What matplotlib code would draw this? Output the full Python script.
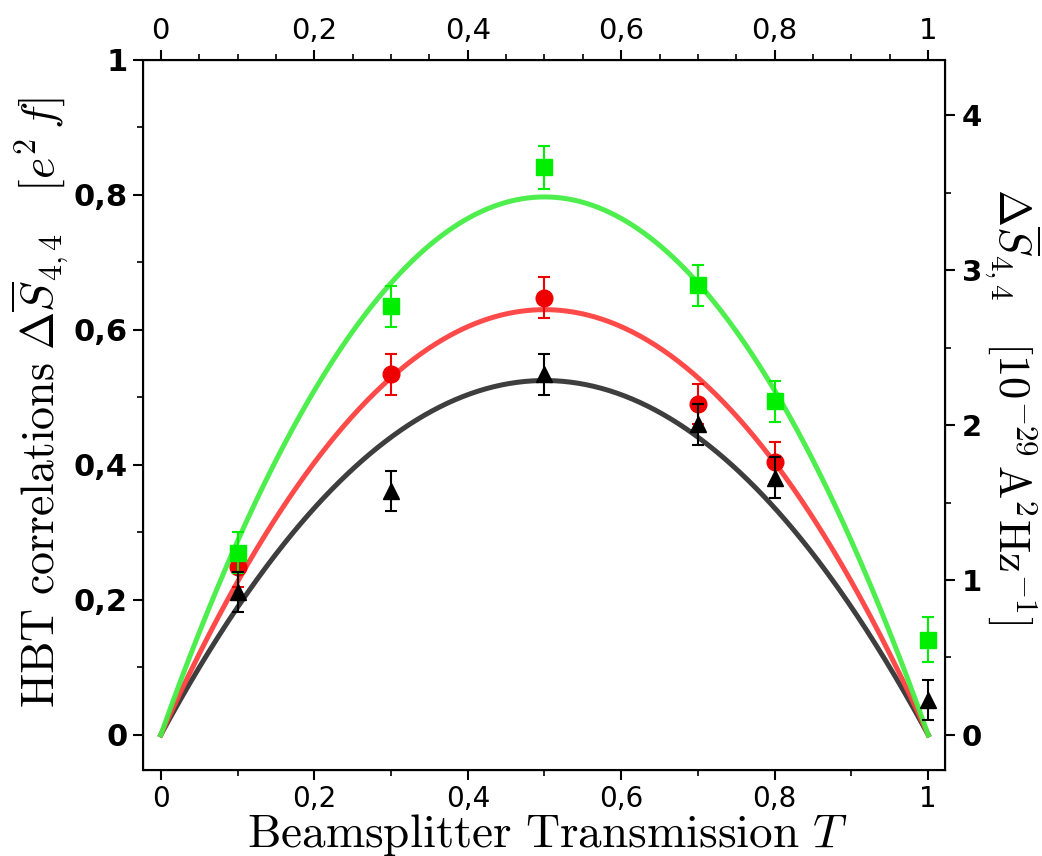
import numpy as np
import matplotlib
matplotlib.use("Agg")
import matplotlib.pyplot as plt
from matplotlib.ticker import MultipleLocator

plt.rcParams['mathtext.fontset'] = 'cm'

# ---- data ----
T_meas = [0.1, 0.3, 0.5, 0.7, 0.8, 1.0]
green_y = [0.270, 0.635, 0.841, 0.666, 0.494, 0.141]
green_err = [0.030, 0.030, 0.032, 0.030, 0.030, 0.033]
T_red = [0.1, 0.3, 0.5, 0.7, 0.8]
red_y = [0.249, 0.534, 0.648, 0.490, 0.404]
red_err = [0.030, 0.030, 0.030, 0.030, 0.030]
black_y = [0.212, 0.361, 0.534, 0.460, 0.381, 0.052]
black_err = [0.030, 0.030, 0.030, 0.030, 0.030, 0.030]

# fitted curve amplitudes (value at T = 0.5) for the model 4*A*T*(1-T)
fit_peak_green = 0.797
fit_peak_red = 0.630
fit_peak_black = 0.525

xticks = [0, 0.2, 0.4, 0.6, 0.8, 1.0]
xticklabels = ['0', '0,2', '0,4', '0,6', '0,8', '1']
yticks = [0, 0.2, 0.4, 0.6, 0.8, 1.0]
yticklabels = ['0', '0,2', '0,4', '0,6', '0,8', '1']
rticks = [0, 1, 2, 3, 4]
rticklabels = ['0', '1', '2', '3', '4']
right_scale = 4.357  # right-axis units per left-axis unit

# ---- figure ----
fig = plt.figure(figsize=(10.42, 8.56), dpi=100)
ax = fig.add_axes([0.137, 0.1005, 0.770, 0.8295])

Tc = np.linspace(0, 1, 400)
ax.plot(Tc, 4 * fit_peak_black * Tc * (1 - Tc), color='#333333', lw=3.6, alpha=0.95, zorder=2)
ax.plot(Tc, 4 * fit_peak_red * Tc * (1 - Tc), color='#ff4040', lw=3.6, alpha=0.95, zorder=3)
ax.plot(Tc, 4 * fit_peak_green * Tc * (1 - Tc), color='#44ee44', lw=3.6, alpha=0.95, zorder=4)

ekw = dict(elinewidth=1.5, capsize=4, capthick=1.5, linestyle='none')
ax.errorbar(T_meas, green_y, yerr=green_err, fmt='s', color='#00ee00', ms=11, zorder=6, **ekw)
ax.errorbar(T_red, red_y, yerr=red_err, fmt='o', color='#ee0000', ms=12, zorder=5, **ekw)
ax.errorbar(T_meas, black_y, yerr=black_err, fmt='^', color='black', ms=12, zorder=7, **ekw)

ax.set_xlim(-0.0235, 1.022)
ax.set_ylim(-0.052, 1.0)

ax.set_xticks(xticks)
ax.set_xticklabels(xticklabels, family='DejaVu Sans', fontsize=20)
ax.xaxis.set_minor_locator(MultipleLocator(0.1))
ax.set_yticks(yticks)
ax.set_yticklabels(yticklabels, family='DejaVu Sans', fontsize=22, fontweight='bold')
ax.yaxis.set_minor_locator(MultipleLocator(0.1))
ax.tick_params(which='major', direction='out', length=7, width=1.5, pad=4)
ax.tick_params(which='minor', direction='out', length=4.5, width=1.2)
for s in ax.spines.values():
    s.set_linewidth(1.5)

# top axis
axt = ax.twiny()
axt.set_xlim(ax.get_xlim())
axt.set_xticks(xticks)
axt.set_xticklabels(xticklabels, family='DejaVu Sans', fontsize=21)
axt.xaxis.set_minor_locator(MultipleLocator(0.05))
axt.tick_params(which='major', direction='out', length=7, width=1.5, pad=4)
axt.tick_params(which='minor', direction='out', length=4.5, width=1.2)

# right axis
axr = ax.twinx()
axr.set_ylim(ax.get_ylim()[0] * right_scale, ax.get_ylim()[1] * right_scale)
axr.set_yticks(rticks)
axr.set_yticklabels(rticklabels, family='DejaVu Sans', fontsize=21, fontweight='bold')
axr.yaxis.set_minor_locator(MultipleLocator(0.5))
axr.tick_params(which='major', direction='out', length=7, width=1.5, pad=5)
axr.tick_params(which='minor', direction='out', length=4.5, width=1.2)

# axis labels placed in figure coordinates
W, H = 1042.0, 856.0
fig.text(547 / W, 1 - 847 / H, r'$\mathrm{Beamsplitter\ Transmission}\ T$',
         fontsize=34, ha='center', va='baseline')
fig.text(40 / W, 1 - 402 / H,
         r'$\mathrm{HBT\ correlations}\ \Delta\overline{S}_{4,4}\quad[e^2\,f]$',
         fontsize=33, rotation=90, ha='center', va='center')
fig.text(1012 / W, 1 - 406 / H,
         r'$\Delta\overline{S}_{4,4}\quad[10^{-29}\,\mathrm{A}^2\mathrm{Hz}^{-1}]$',
         fontsize=32, rotation=270, ha='center', va='center')

fig.savefig('out.png', dpi=100)
